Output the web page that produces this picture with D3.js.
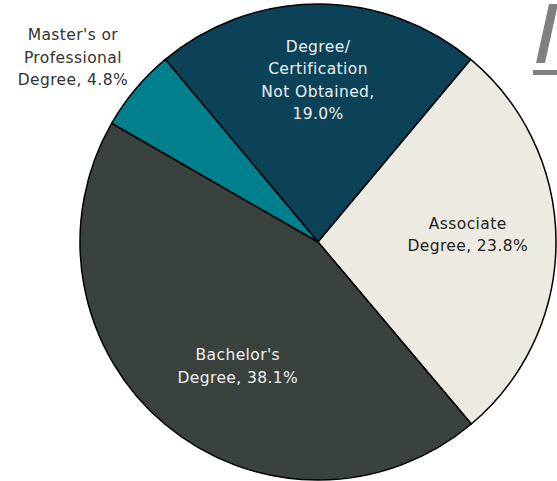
<!DOCTYPE html>
<html>
<head>
<meta charset="utf-8">
<script src="https://cdn.jsdelivr.net/npm/d3@7"></script>
<style>
  body { margin: 0; background: #fff; }
  text { font-family: "Century Gothic", "DejaVu Sans", sans-serif; font-size: 15.5px; letter-spacing: 0.4px; }
</style>
</head>
<body>
<div id="vis"></div>
<script>
// slice data, clockwise from the top
const categories = ['Degree/Certification Not Obtained', 'Associate Degree', "Bachelor's Degree", "Master's or Professional Degree"]
const shares = [19.0, 23.8, 38.1, 4.8]
const labelLines = [
    ['Degree/', 'Certification', 'Not Obtained,', '19.0%'],
    ['Associate', 'Degree, 23.8%'],
    ["Bachelor's", 'Degree, 38.1%'],
    ["Master's or", 'Professional', 'Degree, 4.8%']
]

const colors = ['#0b4257', '#edebe1', '#39423d', '#00808c']
const textColors = ['#eef0f0', '#222222', '#eef0f0', '#333333']
// label placement: fraction of radius, and angle nudge in degrees
const labelPos = [0.68, 0.63, 0.62, 1.29]
const labelShift = [0, -2.7, -7, -3]

const W = 557, H = 481
const cx = 318, cy = 242, r = 238
const lineH = 22.5

let svg = d3.select('#vis').append('svg')
    .attr('width', W)
    .attr('height', H)

// partial logo in the corner
svg.append('path')
    .attr('d', 'M549,4 L558,4 L545,63 L536,63 Z')
    .attr('fill', '#808080')
svg.append('rect')
    .attr('x', 533).attr('y', 70).attr('width', 24).attr('height', 5)
    .attr('fill', '#808080')

let startA = -39.9 * Math.PI / 180
let pie = d3.pie().sort(null).value(d => d)
    .startAngle(startA).endAngle(startA + 2 * Math.PI)
let arcs = pie(shares)
let arc = d3.arc().innerRadius(0).outerRadius(r)

let g = svg.append('g').attr('transform', `translate(${cx},${cy})`)

g.selectAll('path.slice')
    .data(arcs)
    .join('path')
    .attr('class', 'slice')
    .attr('d', arc)
    .attr('fill', (d, i) => colors[i])
    .attr('stroke', '#000')
    .attr('stroke-width', 1.5)
    .attr('stroke-linejoin', 'round')

g.selectAll('text.lbl')
    .data(arcs)
    .join('text')
    .attr('class', 'lbl')
    .attr('text-anchor', 'middle')
    .attr('fill', (d, i) => textColors[i])
    .each(function(d, i){
        let a = (d.startAngle + d.endAngle) / 2 + labelShift[i] * Math.PI / 180
        let rr = r * labelPos[i]
        let x = Math.sin(a) * rr
        let y = -Math.cos(a) * rr
        let lines = labelLines[i]
        let y0 = y - (lines.length - 1) * lineH / 2
        d3.select(this).selectAll('tspan')
            .data(lines)
            .join('tspan')
            .attr('x', x)
            .attr('y', (t, j) => y0 + j * lineH)
            .attr('dy', '0.35em')
            .text(t => t)
    })
</script>
</body>
</html>
